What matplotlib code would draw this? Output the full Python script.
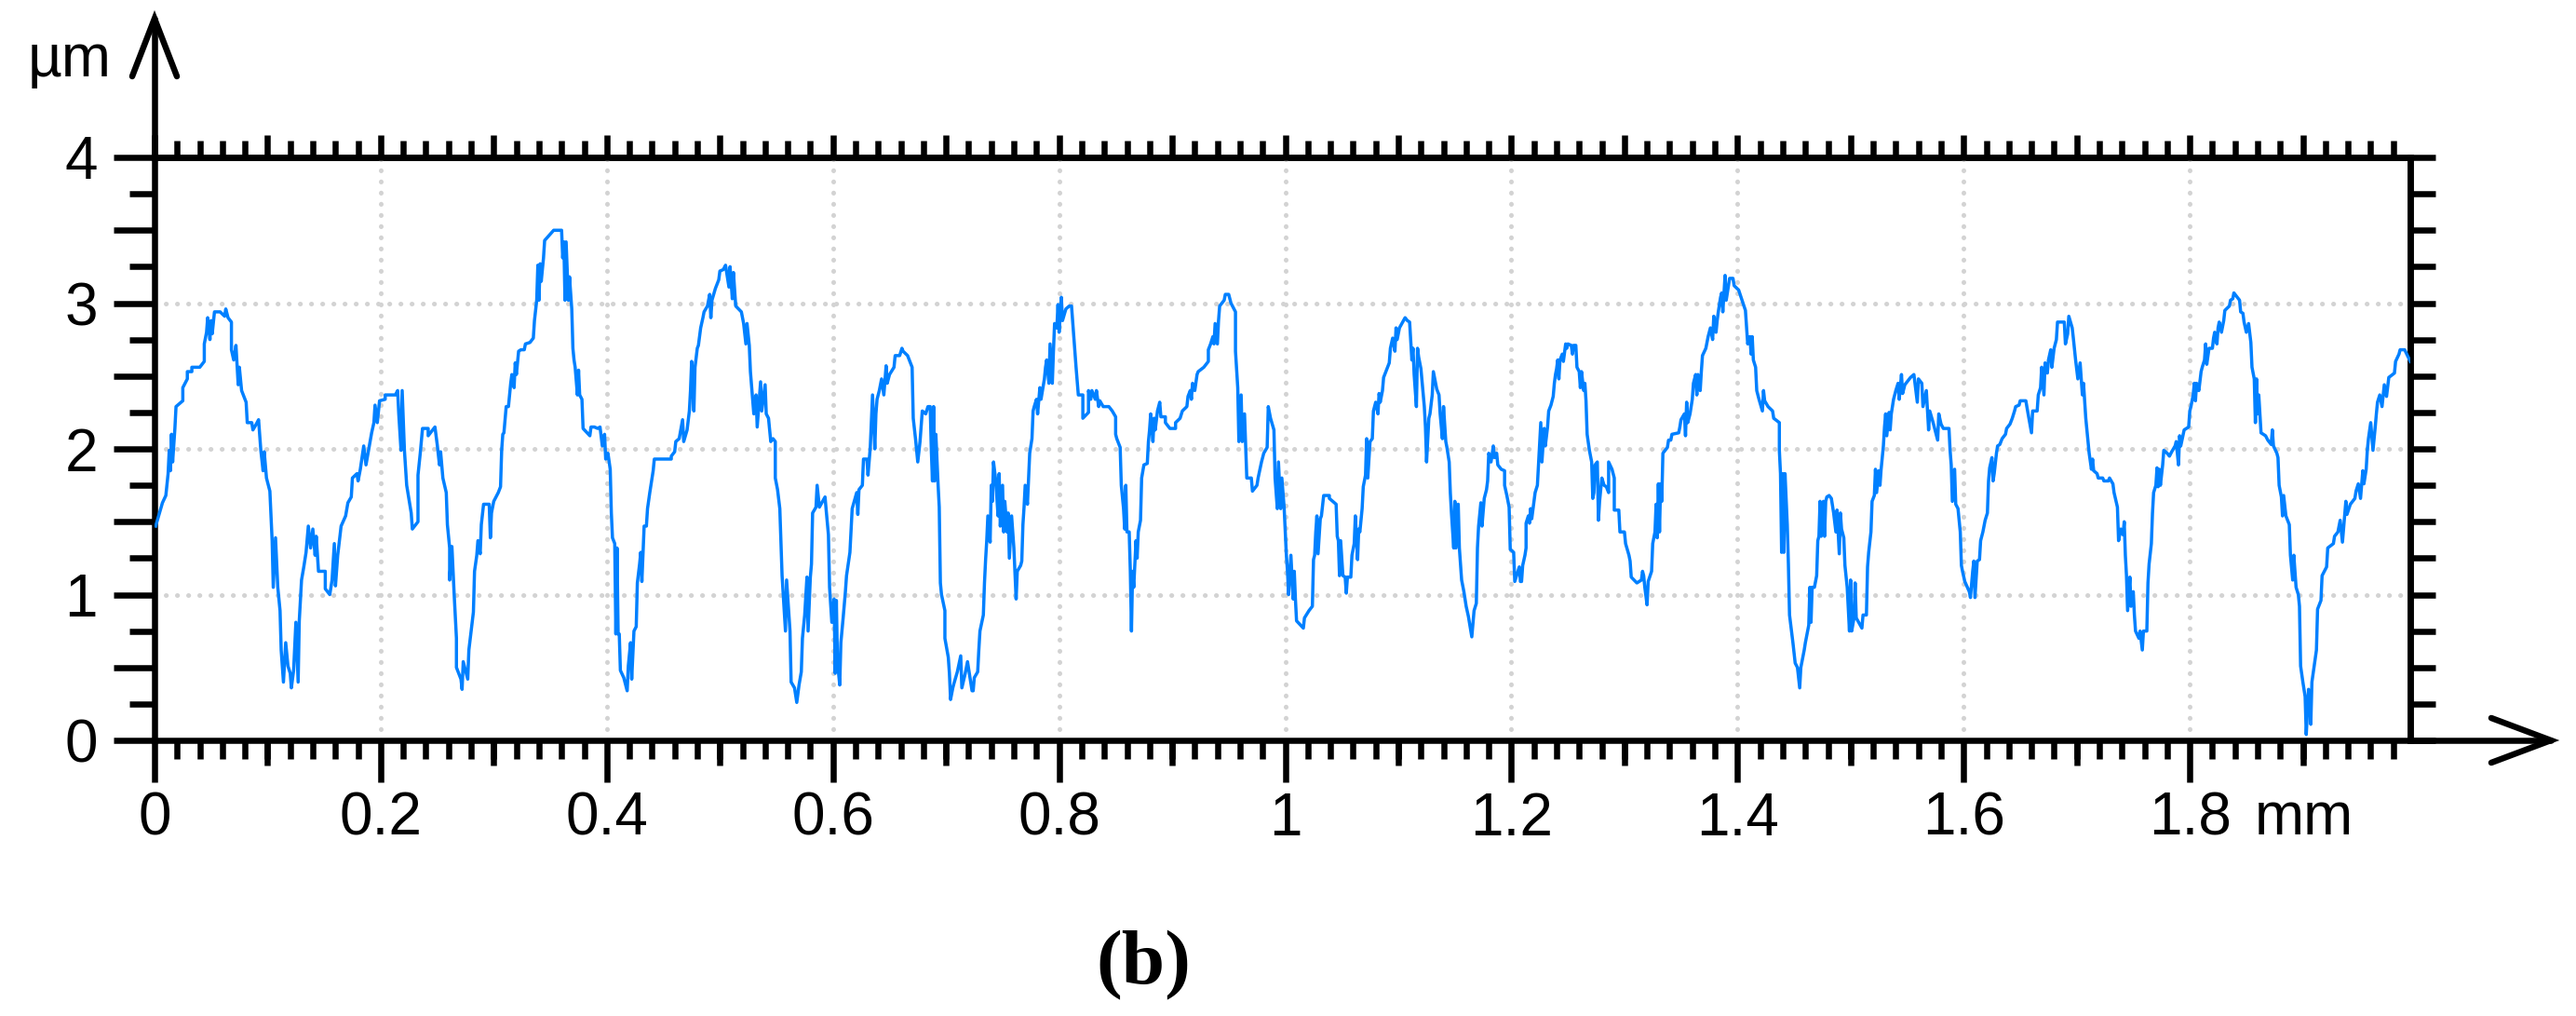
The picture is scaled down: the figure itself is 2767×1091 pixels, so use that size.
import numpy as np
import matplotlib.pyplot as plt
from matplotlib.lines import Line2D
from matplotlib.ticker import FixedLocator, MultipleLocator, NullLocator

plt.rcParams["font.family"] = ["Liberation Sans", "DejaVu Sans"]

# surface profile: x in mm, height in um
x_a = [0.001, 0.004, 0.007, 0.010, 0.012, 0.013, 0.014, 0.015, 0.016, 0.018, 0.019, 0.025, 0.025, 0.029,
       0.029, 0.033, 0.033, 0.040, 0.044, 0.044, 0.046, 0.047, 0.049, 0.050, 0.051, 0.053, 0.058, 0.062,
       0.063, 0.065, 0.068, 0.068, 0.070, 0.072, 0.074, 0.075, 0.077, 0.081, 0.082, 0.086, 0.087, 0.090,
       0.092, 0.094, 0.096, 0.097, 0.099, 0.102, 0.103, 0.104, 0.105, 0.107, 0.109, 0.111, 0.112, 0.114,
       0.116, 0.118, 0.120, 0.121, 0.123, 0.125, 0.127, 0.128, 0.130, 0.132, 0.134, 0.136, 0.138, 0.140,
       0.142, 0.143, 0.145, 0.151, 0.151, 0.155, 0.157, 0.159, 0.160, 0.162, 0.165, 0.169, 0.171, 0.174,
       0.175, 0.179, 0.180, 0.182, 0.185, 0.187, 0.190, 0.192, 0.194, 0.195, 0.197, 0.199, 0.204, 0.204,
       0.213, 0.215, 0.216, 0.218, 0.219, 0.221, 0.223, 0.227, 0.228, 0.233, 0.233, 0.235, 0.237, 0.242,
       0.242, 0.246, 0.248, 0.250, 0.252, 0.253, 0.255, 0.258, 0.259, 0.261, 0.261, 0.263, 0.265, 0.267,
       0.267, 0.271, 0.272, 0.273, 0.275, 0.277, 0.278, 0.280, 0.282, 0.283, 0.285, 0.286, 0.288, 0.289,
       0.291, 0.296, 0.297, 0.298, 0.300, 0.304, 0.306, 0.307, 0.308, 0.309, 0.311, 0.313, 0.315, 0.316,
       0.318, 0.319, 0.320, 0.322, 0.324, 0.327, 0.328, 0.332]
z_a = [1.47, 1.55, 1.63, 1.68, 1.83, 1.99, 1.85, 2.10, 1.91, 2.14, 2.29, 2.33, 2.42, 2.48,
       2.53, 2.53, 2.56, 2.56, 2.60, 2.72, 2.80, 2.90, 2.75, 2.88, 2.79, 2.94, 2.94, 2.91,
       2.96, 2.90, 2.87, 2.68, 2.61, 2.71, 2.44, 2.56, 2.40, 2.32, 2.18, 2.18, 2.13, 2.17,
       2.20, 1.99, 1.85, 1.98, 1.80, 1.71, 1.54, 1.37, 1.05, 1.39, 1.05, 0.89, 0.62, 0.40,
       0.67, 0.51, 0.46, 0.36, 0.48, 0.81, 0.40, 0.82, 1.10, 1.19, 1.29, 1.47, 1.32, 1.45,
       1.27, 1.40, 1.16, 1.16, 1.04, 1.00, 1.10, 1.35, 1.06, 1.27, 1.47, 1.54, 1.63, 1.67,
       1.80, 1.83, 1.78, 1.86, 2.02, 1.89, 2.02, 2.11, 2.18, 2.30, 2.18, 2.33, 2.34, 2.37,
       2.37, 2.40, 2.24, 1.99, 2.40, 1.99, 1.75, 1.56, 1.45, 1.50, 1.82, 1.97, 2.14, 2.14,
       2.09, 2.13, 2.15, 2.03, 1.89, 1.98, 1.80, 1.70, 1.48, 1.32, 1.10, 1.33, 1.00, 0.70,
       0.50, 0.42, 0.35, 0.54, 0.48, 0.42, 0.62, 0.75, 0.88, 1.16, 1.27, 1.37, 1.28, 1.48,
       1.62, 1.62, 1.39, 1.56, 1.64, 1.70, 1.74, 1.99, 2.10, 2.11, 2.29, 2.29, 2.45, 2.51,
       2.42, 2.59, 2.51, 2.67, 2.68, 2.68, 2.72, 2.73]

x_b = [0.335, 0.336, 0.338, 0.339, 0.340, 0.341, 0.342, 0.344, 0.345, 0.353, 0.355, 0.360, 0.361, 0.362,
       0.363, 0.364, 0.366, 0.367, 0.369, 0.370, 0.371, 0.372, 0.374, 0.375, 0.376, 0.378, 0.379, 0.385,
       0.386, 0.389, 0.392, 0.394, 0.396, 0.398, 0.399, 0.401, 0.403, 0.404, 0.405, 0.407, 0.408, 0.409,
       0.410, 0.411, 0.412, 0.415, 0.418, 0.419, 0.421, 0.422, 0.424, 0.426, 0.427, 0.429, 0.430, 0.431,
       0.433, 0.435, 0.436, 0.438, 0.441, 0.442, 0.457, 0.457, 0.460, 0.461, 0.464, 0.467, 0.468, 0.471,
       0.473, 0.474, 0.475, 0.477, 0.478, 0.480, 0.481, 0.483, 0.485, 0.486, 0.489, 0.491, 0.492, 0.493,
       0.496, 0.499, 0.500, 0.503, 0.505, 0.508, 0.509, 0.511, 0.512, 0.514, 0.519, 0.521, 0.523, 0.524,
       0.526, 0.527, 0.530, 0.532, 0.533, 0.536, 0.537, 0.540, 0.541, 0.543, 0.545, 0.547, 0.549, 0.549,
       0.551, 0.553, 0.554, 0.555, 0.558, 0.559, 0.562, 0.563, 0.566, 0.568, 0.570, 0.572, 0.573, 0.575,
       0.577, 0.578, 0.580, 0.581, 0.582, 0.585, 0.586, 0.588, 0.593, 0.594, 0.596, 0.597, 0.599, 0.601,
       0.602, 0.603, 0.604, 0.606, 0.607, 0.609, 0.611, 0.612, 0.615, 0.617, 0.621, 0.622, 0.623, 0.626,
       0.627, 0.630, 0.631, 0.633, 0.635, 0.637, 0.638, 0.639, 0.641, 0.643, 0.645, 0.647, 0.648, 0.650,
       0.654, 0.655, 0.659, 0.661]
z_b = [2.76, 2.88, 3.02, 3.26, 3.02, 3.27, 3.15, 3.31, 3.43, 3.50, 3.50, 3.50, 3.31, 3.42,
       3.02, 3.42, 3.02, 3.18, 2.96, 2.69, 2.61, 2.56, 2.37, 2.54, 2.37, 2.34, 2.14, 2.09,
       2.15, 2.15, 2.14, 2.15, 2.02, 2.10, 1.93, 1.97, 1.86, 1.56, 1.39, 1.35, 0.73, 1.32,
       0.73, 0.73, 0.48, 0.43, 0.34, 0.51, 0.67, 0.42, 0.75, 0.78, 1.08, 1.21, 1.29, 1.09,
       1.47, 1.47, 1.59, 1.70, 1.85, 1.93, 1.93, 1.95, 1.98, 2.05, 2.07, 2.20, 2.05, 2.13,
       2.26, 2.40, 2.60, 2.26, 2.56, 2.69, 2.71, 2.83, 2.90, 2.94, 2.98, 3.06, 2.90, 3.02,
       3.10, 3.16, 3.22, 3.23, 3.26, 3.11, 3.25, 3.03, 3.21, 2.98, 2.94, 2.86, 2.72, 2.86,
       2.71, 2.53, 2.24, 2.37, 2.15, 2.46, 2.26, 2.44, 2.24, 2.21, 2.05, 2.07, 2.05, 1.80,
       1.72, 1.59, 1.35, 1.13, 0.75, 1.10, 0.75, 0.40, 0.36, 0.26, 0.38, 0.47, 0.70, 0.86,
       1.12, 0.75, 1.12, 1.21, 1.56, 1.60, 1.75, 1.60, 1.67, 1.58, 1.41, 1.05, 0.81, 0.97,
       0.46, 0.96, 0.54, 0.38, 0.67, 0.84, 1.02, 1.13, 1.29, 1.59, 1.70, 1.55, 1.72, 1.75,
       1.93, 1.93, 1.82, 2.01, 2.37, 2.00, 2.24, 2.34, 2.40, 2.48, 2.37, 2.57, 2.45, 2.51,
       2.56, 2.64, 2.64, 2.69]

x_c = [0.662, 0.666, 0.670, 0.671, 0.673, 0.675, 0.677, 0.679, 0.682, 0.684, 0.686, 0.687, 0.688, 0.689,
       0.690, 0.691, 0.693, 0.694, 0.695, 0.696, 0.699, 0.699, 0.702, 0.703, 0.704, 0.706, 0.707, 0.710,
       0.713, 0.714, 0.717, 0.719, 0.721, 0.723, 0.724, 0.725, 0.728, 0.729, 0.730, 0.733, 0.734, 0.735,
       0.736, 0.737, 0.739, 0.740, 0.741, 0.742, 0.744, 0.746, 0.747, 0.748, 0.750, 0.751, 0.752, 0.754,
       0.755, 0.756, 0.758, 0.760, 0.762, 0.763, 0.766, 0.767, 0.768, 0.769, 0.770, 0.772, 0.773, 0.774,
       0.776, 0.777, 0.778, 0.780, 0.781, 0.783, 0.784, 0.787, 0.788, 0.789, 0.791, 0.792, 0.794, 0.795,
       0.796, 0.798, 0.799, 0.800, 0.802, 0.803, 0.806, 0.809, 0.811, 0.813, 0.815, 0.817, 0.821, 0.821,
       0.826, 0.826, 0.828, 0.829, 0.832, 0.833, 0.835, 0.836, 0.839, 0.844, 0.847, 0.850, 0.850, 0.851,
       0.854, 0.855, 0.857, 0.858, 0.859, 0.860, 0.862, 0.863, 0.864, 0.865, 0.866, 0.868, 0.869, 0.870,
       0.872, 0.873, 0.875, 0.878, 0.879, 0.880, 0.881, 0.883, 0.884, 0.885, 0.887, 0.889, 0.890, 0.894,
       0.894, 0.898, 0.903, 0.903, 0.907, 0.909, 0.913, 0.914, 0.916, 0.917, 0.918, 0.920, 0.922, 0.923,
       0.928, 0.932, 0.932, 0.934, 0.936, 0.937, 0.938, 0.940, 0.941, 0.942, 0.946, 0.947, 0.950, 0.952,
       0.956, 0.956, 0.958, 0.959, 0.961, 0.962, 0.964, 0.966, 0.970, 0.971, 0.975, 0.976, 0.979, 0.981,
       0.984, 0.985, 0.987, 0.990, 0.991]
z_c = [2.67, 2.64, 2.56, 2.21, 2.07, 1.91, 2.05, 2.26, 2.24, 2.29, 2.29, 1.99, 1.78, 2.29,
       1.78, 2.10, 1.75, 1.60, 1.08, 1.00, 0.89, 0.70, 0.57, 0.46, 0.28, 0.36, 0.39, 0.47,
       0.58, 0.36, 0.46, 0.54, 0.44, 0.34, 0.34, 0.43, 0.47, 0.62, 0.75, 0.86, 1.08, 1.24,
       1.37, 1.54, 1.36, 1.75, 1.64, 1.91, 1.78, 1.54, 1.83, 1.47, 1.75, 1.43, 1.64, 1.43,
       1.56, 1.25, 1.54, 1.32, 0.97, 1.16, 1.20, 1.23, 1.48, 1.60, 1.75, 1.62, 1.80, 1.97,
       2.07, 2.26, 2.29, 2.34, 2.24, 2.42, 2.34, 2.48, 2.56, 2.61, 2.45, 2.72, 2.45, 2.67,
       2.86, 2.83, 2.99, 2.80, 3.04, 2.88, 2.96, 2.98, 2.98, 2.77, 2.56, 2.37, 2.37, 2.21,
       2.25, 2.40, 2.34, 2.40, 2.34, 2.40, 2.29, 2.33, 2.29, 2.29, 2.26, 2.22, 2.10, 2.07,
       2.01, 1.75, 1.59, 1.45, 1.75, 1.43, 1.43, 1.16, 0.75, 1.16, 1.05, 1.37, 1.25, 1.43,
       1.51, 1.80, 1.89, 1.90, 2.05, 2.13, 2.24, 2.05, 2.21, 2.13, 2.26, 2.32, 2.22, 2.22,
       2.18, 2.14, 2.14, 2.18, 2.21, 2.26, 2.29, 2.36, 2.40, 2.34, 2.45, 2.40, 2.51, 2.53,
       2.56, 2.60, 2.68, 2.72, 2.77, 2.72, 2.86, 2.72, 2.88, 2.98, 3.02, 3.06, 3.06, 3.00,
       2.94, 2.67, 2.42, 2.05, 2.37, 2.05, 2.24, 1.80, 1.80, 1.71, 1.75, 1.80, 1.91, 1.97,
       2.01, 2.29, 2.21, 2.13, 1.80]

x_d = [0.993, 0.994, 0.996, 0.997, 0.999, 1.000, 1.001, 1.002, 1.003, 1.005, 1.007, 1.008, 1.009, 1.010,
       1.016, 1.017, 1.021, 1.024, 1.025, 1.026, 1.027, 1.028, 1.029, 1.031, 1.032, 1.034, 1.039, 1.039,
       1.045, 1.046, 1.047, 1.048, 1.049, 1.051, 1.053, 1.054, 1.055, 1.058, 1.059, 1.061, 1.062, 1.064,
       1.065, 1.066, 1.068, 1.069, 1.071, 1.072, 1.073, 1.075, 1.077, 1.078, 1.080, 1.082, 1.083, 1.084,
       1.086, 1.087, 1.090, 1.092, 1.093, 1.095, 1.097, 1.098, 1.099, 1.101, 1.106, 1.108, 1.110, 1.112,
       1.113, 1.114, 1.116, 1.117, 1.118, 1.119, 1.120, 1.123, 1.124, 1.125, 1.127, 1.128, 1.130, 1.131,
       1.132, 1.134, 1.136, 1.137, 1.139, 1.140, 1.142, 1.143, 1.145, 1.146, 1.147, 1.149, 1.150, 1.151,
       1.153, 1.154, 1.156, 1.158, 1.160, 1.162, 1.165, 1.167, 1.169, 1.170, 1.171, 1.173, 1.174, 1.176,
       1.178, 1.179, 1.180, 1.182, 1.184, 1.185, 1.187, 1.188, 1.191, 1.194, 1.194, 1.196, 1.198, 1.199,
       1.202, 1.203, 1.205, 1.207, 1.208, 1.209, 1.210, 1.212, 1.213, 1.213, 1.215, 1.216, 1.217, 1.218,
       1.220, 1.221, 1.223, 1.224, 1.225, 1.226, 1.227, 1.229, 1.230, 1.232, 1.233, 1.235, 1.237, 1.238,
       1.239, 1.240, 1.241, 1.242, 1.243, 1.245, 1.246, 1.248, 1.249, 1.250, 1.253, 1.254, 1.255, 1.257,
       1.258, 1.260, 1.261, 1.262, 1.264, 1.265, 1.266, 1.267, 1.269, 1.271, 1.272, 1.273, 1.274, 1.276,
       1.277, 1.278, 1.280, 1.282, 1.284, 1.286, 1.286, 1.289, 1.291, 1.291, 1.295, 1.296, 1.300, 1.301,
       1.304, 1.305, 1.306, 1.311, 1.315, 1.316, 1.317, 1.318, 1.320]
z_d = [1.59, 1.91, 1.59, 1.80, 1.60, 1.43, 1.27, 1.16, 1.00, 1.27, 0.97, 1.16, 0.97, 0.82,
       0.77, 0.84, 0.89, 0.92, 1.24, 1.27, 1.43, 1.54, 1.28, 1.52, 1.54, 1.68, 1.68, 1.66,
       1.62, 1.40, 1.37, 1.13, 1.37, 1.13, 1.12, 1.01, 1.12, 1.12, 1.27, 1.35, 1.54, 1.24,
       1.45, 1.43, 1.59, 1.74, 1.82, 2.07, 1.80, 2.05, 2.07, 2.26, 2.32, 2.24, 2.38, 2.32,
       2.40, 2.49, 2.55, 2.59, 2.69, 2.76, 2.67, 2.83, 2.75, 2.83, 2.90, 2.88, 2.87, 2.61,
       2.69, 2.51, 2.29, 2.69, 2.63, 2.59, 2.55, 2.29, 2.15, 1.91, 2.21, 2.24, 2.37, 2.53,
       2.49, 2.41, 2.37, 2.24, 2.07, 2.29, 2.05, 2.01, 1.91, 1.70, 1.56, 1.32, 1.64, 1.32,
       1.62, 1.32, 1.10, 1.02, 0.92, 0.85, 0.71, 0.89, 0.94, 1.32, 1.47, 1.63, 1.47, 1.66,
       1.72, 1.78, 1.97, 1.91, 2.02, 1.94, 1.97, 1.89, 1.86, 1.85, 1.75, 1.68, 1.60, 1.31,
       1.29, 1.09, 1.14, 1.19, 1.09, 1.09, 1.20, 1.27, 1.32, 1.49, 1.54, 1.49, 1.59, 1.52,
       1.64, 1.70, 1.75, 1.89, 2.02, 2.18, 1.91, 2.14, 2.02, 2.15, 2.26, 2.30, 2.36, 2.45,
       2.51, 2.55, 2.61, 2.48, 2.61, 2.65, 2.60, 2.72, 2.69, 2.72, 2.71, 2.65, 2.71, 2.71,
       2.56, 2.53, 2.42, 2.53, 2.40, 2.45, 2.33, 2.10, 1.99, 1.91, 1.66, 1.70, 1.89, 1.91,
       1.51, 1.64, 1.80, 1.75, 1.74, 1.70, 1.91, 1.86, 1.80, 1.58, 1.58, 1.43, 1.43, 1.35,
       1.27, 1.23, 1.12, 1.08, 1.10, 1.16, 1.13, 1.05, 0.93]

x_e = [1.321, 1.324, 1.325, 1.327, 1.328, 1.329, 1.330, 1.331, 1.332, 1.333, 1.334, 1.338, 1.339, 1.341,
       1.342, 1.348, 1.349, 1.350, 1.353, 1.354, 1.355, 1.356, 1.358, 1.360, 1.361, 1.363, 1.364, 1.365,
       1.367, 1.368, 1.369, 1.372, 1.374, 1.376, 1.378, 1.379, 1.381, 1.382, 1.383, 1.385, 1.386, 1.387,
       1.389, 1.390, 1.392, 1.393, 1.396, 1.397, 1.401, 1.404, 1.407, 1.408, 1.409, 1.411, 1.412, 1.413,
       1.414, 1.416, 1.417, 1.419, 1.422, 1.423, 1.424, 1.427, 1.431, 1.432, 1.437, 1.437, 1.438, 1.439,
       1.440, 1.441, 1.442, 1.444, 1.445, 1.446, 1.449, 1.451, 1.453, 1.455, 1.456, 1.459, 1.460, 1.462,
       1.463, 1.464, 1.465, 1.466, 1.468, 1.470, 1.471, 1.472, 1.473, 1.474, 1.476, 1.477, 1.478, 1.479,
       1.481, 1.483, 1.485, 1.487, 1.488, 1.490, 1.491, 1.492, 1.494, 1.495, 1.497, 1.499, 1.500, 1.501,
       1.503, 1.504, 1.505, 1.510, 1.511, 1.514, 1.515, 1.516, 1.518, 1.519, 1.521, 1.522, 1.523, 1.525,
       1.526, 1.527, 1.529, 1.530, 1.531, 1.532, 1.534, 1.535, 1.536, 1.538, 1.540, 1.542, 1.543, 1.545,
       1.546, 1.548, 1.553, 1.556, 1.559, 1.560, 1.563, 1.564, 1.567, 1.569, 1.570, 1.573, 1.574, 1.577,
       1.578, 1.580, 1.582, 1.587, 1.588, 1.589, 1.590, 1.592, 1.593, 1.595, 1.597, 1.598, 1.599, 1.601,
       1.605, 1.606, 1.608, 1.609, 1.610, 1.612, 1.614, 1.615, 1.617, 1.619, 1.621, 1.622, 1.623, 1.625,
       1.626, 1.627, 1.629, 1.630, 1.632, 1.634, 1.637, 1.638, 1.641, 1.643, 1.645, 1.646, 1.649]
z_e = [1.09, 1.16, 1.35, 1.43, 1.62, 1.39, 1.76, 1.43, 1.76, 1.64, 1.97, 2.01, 2.06, 2.06,
       2.10, 2.11, 2.15, 2.20, 2.24, 2.09, 2.32, 2.18, 2.24, 2.34, 2.45, 2.51, 2.37, 2.51,
       2.40, 2.53, 2.64, 2.69, 2.77, 2.83, 2.75, 2.91, 2.80, 2.88, 2.94, 3.04, 3.07, 2.94,
       3.19, 3.02, 3.12, 3.17, 3.17, 3.12, 3.09, 3.02, 2.95, 2.83, 2.72, 2.77, 2.65, 2.77,
       2.61, 2.56, 2.40, 2.34, 2.26, 2.40, 2.33, 2.29, 2.26, 2.21, 2.18, 1.99, 1.83, 1.29,
       1.83, 1.29, 1.83, 1.48, 1.21, 0.86, 0.67, 0.53, 0.50, 0.36, 0.50, 0.62, 0.67, 0.75,
       0.79, 1.05, 0.81, 1.05, 1.05, 1.13, 1.37, 1.40, 1.64, 1.40, 1.64, 1.40, 1.64, 1.67,
       1.68, 1.66, 1.56, 1.43, 1.58, 1.28, 1.56, 1.45, 1.39, 1.20, 1.05, 0.75, 1.10, 0.75,
       0.84, 1.08, 0.84, 0.77, 0.86, 0.86, 1.19, 1.29, 1.43, 1.64, 1.68, 1.86, 1.70, 1.85,
       1.75, 1.86, 2.02, 2.15, 2.24, 2.09, 2.25, 2.13, 2.24, 2.34, 2.40, 2.45, 2.34, 2.51,
       2.38, 2.44, 2.49, 2.51, 2.32, 2.48, 2.45, 2.29, 2.40, 2.13, 2.26, 2.18, 2.15, 2.06,
       2.24, 2.17, 2.14, 2.14, 1.99, 1.89, 1.64, 1.86, 1.62, 1.59, 1.43, 1.20, 1.16, 1.09,
       1.02, 0.98, 1.16, 1.23, 0.98, 1.23, 1.24, 1.37, 1.43, 1.51, 1.56, 1.78, 1.87, 1.94,
       1.78, 1.83, 1.97, 2.02, 2.03, 2.07, 2.10, 2.14, 2.17, 2.21, 2.26, 2.29, 2.30]

x_f = [1.650, 1.655, 1.657, 1.660, 1.661, 1.665, 1.666, 1.668, 1.669, 1.671, 1.672, 1.674, 1.675, 1.677,
       1.678, 1.680, 1.682, 1.683, 1.689, 1.690, 1.692, 1.693, 1.696, 1.697, 1.699, 1.701, 1.703, 1.705,
       1.706, 1.708, 1.710, 1.711, 1.713, 1.714, 1.715, 1.718, 1.719, 1.723, 1.724, 1.728, 1.729, 1.732,
       1.733, 1.736, 1.737, 1.739, 1.741, 1.742, 1.743, 1.744, 1.745, 1.747, 1.748, 1.750, 1.751, 1.752,
       1.755, 1.756, 1.758, 1.759, 1.762, 1.763, 1.764, 1.766, 1.767, 1.768, 1.770, 1.771, 1.772, 1.773,
       1.774, 1.776, 1.777, 1.780, 1.782, 1.784, 1.787, 1.788, 1.790, 1.791, 1.792, 1.795, 1.799, 1.800,
       1.801, 1.803, 1.804, 1.805, 1.806, 1.808, 1.810, 1.811, 1.813, 1.814, 1.815, 1.817, 1.820, 1.821,
       1.822, 1.824, 1.825, 1.826, 1.828, 1.830, 1.831, 1.835, 1.836, 1.838, 1.839, 1.844, 1.845, 1.847,
       1.848, 1.850, 1.852, 1.854, 1.855, 1.857, 1.858, 1.859, 1.860, 1.861, 1.863, 1.867, 1.869, 1.872,
       1.873, 1.874, 1.877, 1.878, 1.879, 1.881, 1.882, 1.883, 1.885, 1.888, 1.889, 1.891, 1.892, 1.894,
       1.896, 1.897, 1.898, 1.900, 1.902, 1.903, 1.905, 1.906, 1.907, 1.908, 1.910, 1.912, 1.913, 1.916,
       1.917, 1.921, 1.922, 1.927, 1.928, 1.931, 1.933, 1.935, 1.938, 1.939, 1.942, 1.946, 1.947, 1.949,
       1.951, 1.953, 1.954, 1.956, 1.957, 1.958, 1.960, 1.962, 1.964, 1.965, 1.966, 1.968, 1.970, 1.972,
       1.974, 1.976, 1.981, 1.982, 1.985, 1.986, 1.990, 1.995]
z_f = [2.33, 2.33, 2.24, 2.11, 2.26, 2.26, 2.37, 2.42, 2.56, 2.37, 2.59, 2.52, 2.61, 2.68,
       2.56, 2.69, 2.75, 2.87, 2.87, 2.72, 2.79, 2.91, 2.83, 2.76, 2.61, 2.48, 2.59, 2.37,
       2.45, 2.21, 2.05, 1.97, 1.86, 1.93, 1.85, 1.83, 1.80, 1.80, 1.78, 1.78, 1.80, 1.76,
       1.70, 1.60, 1.37, 1.45, 1.41, 1.50, 1.27, 1.13, 0.89, 1.12, 0.92, 1.02, 0.86, 0.75,
       0.70, 0.75, 0.62, 0.75, 0.75, 1.08, 1.21, 1.35, 1.56, 1.70, 1.75, 1.87, 1.74, 1.86,
       1.75, 1.89, 1.99, 1.97, 1.95, 1.98, 2.02, 2.05, 1.89, 2.09, 2.02, 2.13, 2.15, 2.26,
       2.29, 2.37, 2.45, 2.33, 2.45, 2.40, 2.53, 2.56, 2.61, 2.72, 2.58, 2.69, 2.69, 2.76,
       2.80, 2.72, 2.83, 2.87, 2.80, 2.88, 2.95, 2.98, 3.02, 3.03, 3.07, 3.02, 2.94, 2.93,
       2.87, 2.80, 2.86, 2.73, 2.56, 2.48, 2.18, 2.48, 2.24, 2.37, 2.11, 2.09, 2.06, 2.03,
       2.13, 2.02, 1.97, 1.94, 1.75, 1.67, 1.54, 1.68, 1.54, 1.48, 1.27, 1.10, 1.27, 1.05,
       1.00, 0.92, 0.51, 0.40, 0.30, 0.04, 0.35, 0.27, 0.11, 0.40, 0.51, 0.62, 0.90, 0.96,
       1.13, 1.19, 1.32, 1.35, 1.40, 1.43, 1.51, 1.36, 1.64, 1.55, 1.62, 1.66, 1.71, 1.76,
       1.66, 1.85, 1.76, 1.86, 1.99, 2.07, 2.18, 1.99, 2.15, 2.24, 2.32, 2.37, 2.29, 2.44,
       2.36, 2.49, 2.52, 2.60, 2.65, 2.68, 2.68, 2.60]

x_mm = np.concatenate([x_a, x_b, x_c, x_d, x_e, x_f])
z_um = np.concatenate([z_a, z_b, z_c, z_d, z_e, z_f])

x_ticks = [0, 0.2, 0.4, 0.6, 0.8, 1.0, 1.2, 1.4, 1.6, 1.8]
x_labels = ["0", "0.2", "0.4", "0.6", "0.8", "1", "1.2", "1.4", "1.6", "1.8"]
y_ticks = [0, 0.5, 1, 1.5, 2, 2.5, 3, 3.5, 4]
y_labels = ["0", "", "1", "", "2", "", "3", "", "4"]
y_grid = [1, 2, 3]

W, H = 2767, 1091
LW = 4.7          # axis / tick thickness (pt)
FS = 46
LINE_BLUE = "#0080ff"
GRID_GREY = "#d3d3d3"

fig = plt.figure(figsize=(W / 100, H / 100), dpi=100)
ax = fig.add_axes([166 / W, 1 - 795 / H, (2589 - 166) / W, (795 - 169) / H])

# dotted grid
for gx in x_ticks[1:]:
    ax.axvline(gx, color=GRID_GREY, lw=3.6, ls=(0, (0.05, 2.35)), dash_capstyle="round", zorder=1)
for gy in y_grid:
    ax.axhline(gy, color=GRID_GREY, lw=3.6, ls=(0, (0.05, 2.35)), dash_capstyle="round", zorder=1)

ax.plot(x_mm, z_um, color=LINE_BLUE, lw=2.5, zorder=3)

ax.set_xlim(0, 1.995)
ax.set_ylim(0, 4)
for s in ax.spines.values():
    s.set_linewidth(LW)

# bottom: long labelled ticks every 0.2, short every 0.02
ax.xaxis.set_major_locator(FixedLocator(x_ticks))
ax.set_xticklabels(x_labels)
ax.xaxis.set_minor_locator(MultipleLocator(0.02))
ax.tick_params(axis="x", which="major", length=32.4, width=LW, labelsize=FS, pad=7)
ax.tick_params(axis="x", which="minor", length=14.4, width=LW)

# bottom: medium ticks at the odd tenths
mid = ax.secondary_xaxis("bottom")
mid.set_xticks(np.arange(0.1, 2.0, 0.2))
mid.xaxis.set_minor_locator(NullLocator())
mid.tick_params(length=19.4, width=LW, labelbottom=False)
mid.spines["bottom"].set_visible(False)

# left: long ticks every 0.5, short every 0.25
ax.yaxis.set_major_locator(FixedLocator(y_ticks))
ax.set_yticklabels(y_labels)
ax.yaxis.set_minor_locator(MultipleLocator(0.25))
ax.tick_params(axis="y", which="major", length=32, width=LW, labelsize=FS, pad=12)
ax.tick_params(axis="y", which="minor", length=19.4, width=LW)

# top and right tick rows
top = ax.secondary_xaxis("top")
top.xaxis.set_major_locator(MultipleLocator(0.1))
top.xaxis.set_minor_locator(MultipleLocator(0.02))
top.tick_params(which="major", length=17.3, width=LW, labeltop=False)
top.tick_params(which="minor", length=13, width=LW)
top.spines["top"].set_linewidth(LW)

right = ax.secondary_yaxis("right")
right.yaxis.set_major_locator(MultipleLocator(0.25))
right.yaxis.set_minor_locator(NullLocator())
right.tick_params(length=19.4, width=LW, labelright=False)
right.spines["right"].set_linewidth(LW)


def fx(x):
    return x / W


def fy(y):
    return 1 - y / H


# axis arrows (pixel positions of the figure)
for xs, ys in [([166, 166], [169, 20]), ([142, 166, 190], [82, 20, 82]),
               ([2589, 2740], [795, 795]), ([2676, 2740, 2676], [771, 795, 819])]:
    fig.add_artist(Line2D([fx(v) for v in xs], [fy(v) for v in ys], transform=fig.transFigure,
                          color="k", lw=LW, solid_capstyle="round", solid_joinstyle="miter"))

fig.text(fx(30), fy(82), "\u00b5m", fontsize=FS, ha="left", va="baseline")
fig.text(fx(2422), fy(896), "mm", fontsize=FS, ha="left", va="baseline")
fig.text(fx(1228), fy(1056), "(b)", fontsize=60, fontweight="bold", family="Liberation Serif",
         ha="center", va="baseline")

fig.savefig("out.png", dpi=100)
